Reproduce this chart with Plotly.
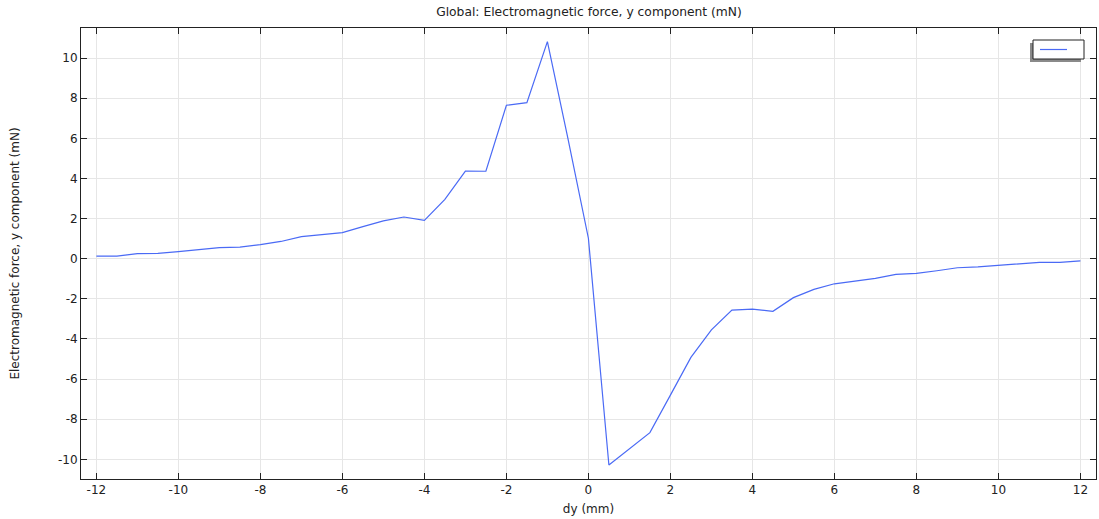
import plotly.graph_objects as go

# ---- data ----
dy_mm = [-12, -11.5, -11, -10.5, -10, -9.5, -9, -8.5, -8, -7.5, -7, -6.5, -6, -5.5, -5,
         -4.5, -4, -3.5, -3, -2.5, -2, -1.5, -1, -0.5, 0, 0.5, 1, 1.5, 2, 2.5, 3, 3.5,
         4, 4.5, 5, 5.5, 6, 6.5, 7, 7.5, 8, 8.5, 9, 9.5, 10, 10.5, 11, 11.5, 12]
force_y_mN = [0.13, 0.13, 0.25, 0.27, 0.35, 0.45, 0.55, 0.58, 0.70, 0.86, 1.10, 1.20, 1.30,
              1.60, 1.89, 2.08, 1.91, 2.96, 4.37, 4.36, 7.65, 7.78, 10.82, 6.0, 1.02,
              -10.28, -9.47, -8.67, -6.80, -4.92, -3.55, -2.56, -2.51, -2.62, -1.94, -1.53,
              -1.25, -1.10, -0.98, -0.78, -0.73, -0.60, -0.45, -0.41, -0.33, -0.26, -0.18,
              -0.18, -0.11]
x_ticks = [-12, -10, -8, -6, -4, -2, 0, 2, 4, 6, 8, 10, 12]
x_ticktext = ["-12", "-10", "-8", "-6", "-4", "-2", "0", "2", "4", "6", "8", "10", "12"]
y_ticks = [-10, -8, -6, -4, -2, 0, 2, 4, 6, 8, 10]
y_ticktext = ["-10", "-8", "-6", "-4", "-2", "0", "2", "4", "6", "8", "10"]

title_text = "Global: Electromagnetic force, y component (mN)"
x_title = "dy (mm)"
y_title = "Electromagnetic force, y component (mN)"

W, H = 1099, 519
ML, MR, MT, MB = 81, 3, 28, 40
PW, PH = W - ML - MR, H - MT - MB

FONT = "DejaVu Sans, sans-serif"
TXT = "#222222"
LINE_COLOR = "#4a6af5"

fig = go.Figure()
fig.add_trace(go.Scatter(
    x=dy_mm, y=force_y_mN, mode="lines", name=" ",
    line=dict(color=LINE_COLOR, width=1.2),
    showlegend=False,
))

axis_common = dict(
    showline=True, linecolor="#222222", linewidth=1, mirror="ticks",
    ticks="inside", ticklen=6, tickcolor="#222222", tickwidth=1,
    showgrid=True, gridcolor="#e6e6e6", gridwidth=1,
    zeroline=False, automargin=False,
    tickfont=dict(family=FONT, size=12, color=TXT),
)

fig.update_xaxes(
    range=[-12.375, 12.38], tickvals=x_ticks, ticktext=x_ticktext,
    title=dict(text=x_title, font=dict(family=FONT, size=12, color=TXT), standoff=8),
    **axis_common,
)
fig.update_yaxes(
    range=[-10.98, 11.5], tickvals=y_ticks, ticktext=y_ticktext,
    title=dict(text=y_title, font=dict(family=FONT, size=12, color=TXT), standoff=35),
    **axis_common,
)

# legend box with drop shadow (decoration, pixel -> paper coords)
def px_x(p):
    return (p - ML) / PW

def px_y(p):
    return (H - MB - p) / PH

fig.add_shape(type="rect", xref="paper", yref="paper",
              x0=px_x(1030), x1=px_x(1081), y0=px_y(62), y1=px_y(43),
              fillcolor="#8a8a8a", line=dict(width=0), layer="above")
fig.add_shape(type="rect", xref="paper", yref="paper",
              x0=px_x(1033), x1=px_x(1084), y0=px_y(59), y1=px_y(40),
              fillcolor="white", line=dict(color="#222222", width=1), layer="above")
fig.add_shape(type="line", xref="paper", yref="paper",
              x0=px_x(1040), x1=px_x(1067), y0=px_y(49.5), y1=px_y(49.5),
              line=dict(color=LINE_COLOR, width=1.2), layer="above")

fig.update_layout(
    width=W, height=H,
    margin=dict(l=ML, r=MR, t=MT, b=MB, autoexpand=False),
    paper_bgcolor="white", plot_bgcolor="white",
    title=dict(text=title_text, x=589 / W, xanchor="center",
               y=1 - 12 / H, yanchor="middle",
               font=dict(family=FONT, size=12.3, color=TXT)),
    showlegend=False,
)

fig.write_html("out.html", config={"displayModeBar": False},
               post_script="document.body.style.margin='0';")
